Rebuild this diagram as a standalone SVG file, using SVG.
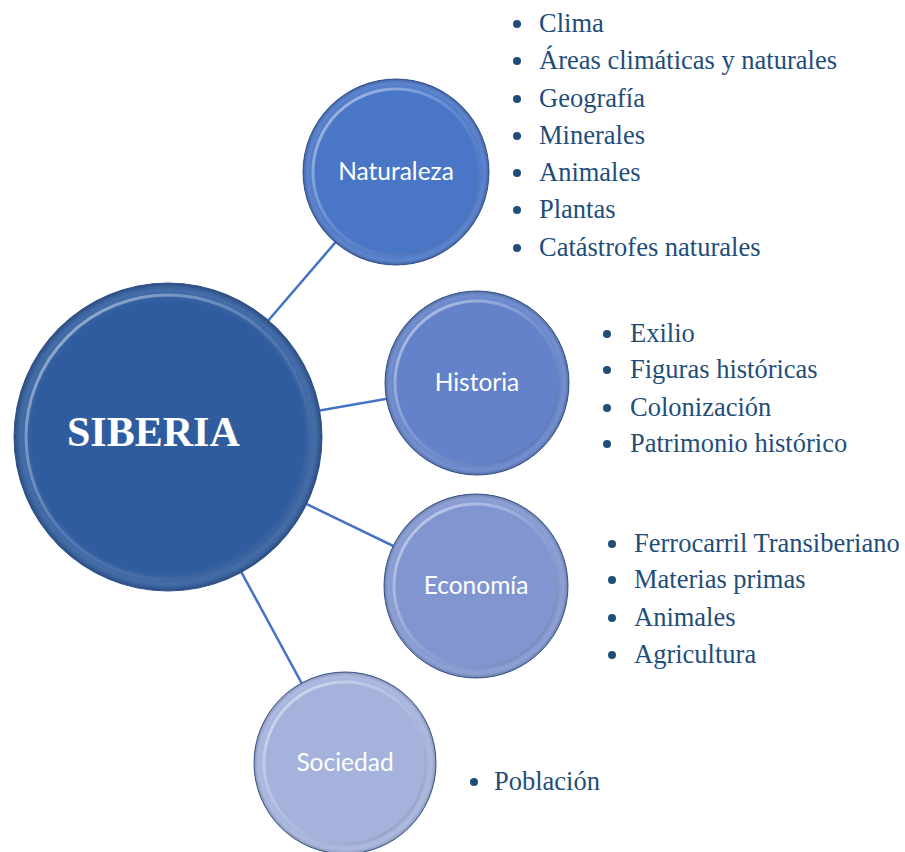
<svg xmlns="http://www.w3.org/2000/svg" width="905" height="852" viewBox="0 0 905 852">
<style>
.edge{stroke:#4472c4;stroke-width:2.5;fill:none}
.rim{fill:none;stroke:url(#rimg);stroke-width:3}
.outer{stroke:#3b5a92;stroke-width:1}
.dot{fill:#1f4e79}
</style>
<defs>
<linearGradient id="rimg" x1="0" y1="0" x2="1" y2="1">
<stop offset="0" stop-color="#ffffff" stop-opacity="0.55"/>
<stop offset="0.5" stop-color="#ffffff" stop-opacity="0.12"/>
<stop offset="1" stop-color="#000000" stop-opacity="0.12"/>
</linearGradient>
<radialGradient id="shade" cx="0.5" cy="0.5" r="0.5">
<stop offset="0.88" stop-color="#ffffff" stop-opacity="0"/>
<stop offset="0.95" stop-color="#ffffff" stop-opacity="0.1"/>
<stop offset="1" stop-color="#000000" stop-opacity="0.2"/>
</radialGradient>
</defs>
<g id="connectors">
<line class="edge" x1="168" y1="437" x2="396" y2="172"/>
<line class="edge" x1="168" y1="437" x2="477" y2="383"/>
<line class="edge" x1="168" y1="437" x2="476" y2="586"/>
<line class="edge" x1="168" y1="437" x2="345" y2="763"/>
</g>
<g id="siberia">
<circle class="outer" cx="168" cy="437" r="154" fill="#2f5c9f"/>
<circle cx="168" cy="437" r="154" fill="url(#shade)"/>
<circle class="rim" cx="168" cy="437" r="142"/>
<text x="67" y="446" font-family="Liberation Serif" font-size="42" font-weight="bold" fill="#ffffff">SIBERIA</text>
</g>
<g id="naturaleza">
<circle class="outer" cx="396" cy="172" r="93" fill="#4a76c7"/>
<circle cx="396" cy="172" r="93" fill="url(#shade)"/>
<circle class="rim" cx="396" cy="172" r="83"/>
<text x="396" y="180" font-family="Lato" font-size="24.5" fill="#ffffff" text-anchor="middle">Naturaleza</text>
</g>
<g id="historia">
<circle class="outer" cx="477" cy="383" r="92" fill="#6382c9"/>
<circle cx="477" cy="383" r="92" fill="url(#shade)"/>
<circle class="rim" cx="477" cy="383" r="82"/>
<text x="477" y="391" font-family="Lato" font-size="24.5" fill="#ffffff" text-anchor="middle">Historia</text>
</g>
<g id="economia">
<circle class="outer" cx="476" cy="586" r="92" fill="#8196d0"/>
<circle cx="476" cy="586" r="92" fill="url(#shade)"/>
<circle class="rim" cx="476" cy="586" r="82"/>
<text x="476" y="594" font-family="Lato" font-size="24.5" fill="#ffffff" text-anchor="middle">Economía</text>
</g>
<g id="sociedad">
<circle class="outer" cx="345" cy="763" r="91" fill="#a4b2dc"/>
<circle cx="345" cy="763" r="91" fill="url(#shade)"/>
<circle class="rim" cx="345" cy="763" r="81"/>
<text x="345" y="771" font-family="Lato" font-size="24.5" fill="#ffffff" text-anchor="middle">Sociedad</text>
</g>
<g id="list-naturaleza">
<circle class="dot" cx="517" cy="24" r="4"/><text x="539" y="32" font-family="Liberation Serif" font-size="26.5" fill="#1f4e79">Clima</text>
<circle class="dot" cx="517" cy="61" r="4"/><text x="539" y="69" font-family="Liberation Serif" font-size="26.5" fill="#1f4e79">Áreas climáticas y naturales</text>
<circle class="dot" cx="517" cy="99" r="4"/><text x="539" y="107" font-family="Liberation Serif" font-size="26.5" fill="#1f4e79">Geografía</text>
<circle class="dot" cx="517" cy="136" r="4"/><text x="539" y="144" font-family="Liberation Serif" font-size="26.5" fill="#1f4e79">Minerales</text>
<circle class="dot" cx="517" cy="173" r="4"/><text x="539" y="181" font-family="Liberation Serif" font-size="26.5" fill="#1f4e79">Animales</text>
<circle class="dot" cx="517" cy="210" r="4"/><text x="539" y="218" font-family="Liberation Serif" font-size="26.5" fill="#1f4e79">Plantas</text>
<circle class="dot" cx="517" cy="248" r="4"/><text x="539" y="256" font-family="Liberation Serif" font-size="26.5" fill="#1f4e79">Catástrofes naturales</text>
</g>
<g id="list-historia">
<circle class="dot" cx="607" cy="334" r="4"/><text x="630" y="342" font-family="Liberation Serif" font-size="26.5" fill="#1f4e79">Exilio</text>
<circle class="dot" cx="607" cy="370" r="4"/><text x="630" y="378" font-family="Liberation Serif" font-size="26.5" fill="#1f4e79">Figuras históricas</text>
<circle class="dot" cx="607" cy="408" r="4"/><text x="630" y="416" font-family="Liberation Serif" font-size="26.5" fill="#1f4e79">Colonización</text>
<circle class="dot" cx="607" cy="444" r="4"/><text x="630" y="452" font-family="Liberation Serif" font-size="26.5" fill="#1f4e79">Patrimonio histórico</text>
</g>
<g id="list-economia">
<circle class="dot" cx="612" cy="544" r="4"/><text x="634" y="552" font-family="Liberation Serif" font-size="26.5" fill="#1f4e79">Ferrocarril Transiberiano</text>
<circle class="dot" cx="612" cy="580" r="4"/><text x="634" y="588" font-family="Liberation Serif" font-size="26.5" fill="#1f4e79">Materias primas</text>
<circle class="dot" cx="612" cy="618" r="4"/><text x="634" y="626" font-family="Liberation Serif" font-size="26.5" fill="#1f4e79">Animales</text>
<circle class="dot" cx="612" cy="655" r="4"/><text x="634" y="663" font-family="Liberation Serif" font-size="26.5" fill="#1f4e79">Agricultura</text>
</g>
<g id="list-sociedad">
<circle class="dot" cx="474" cy="782" r="4"/><text x="494" y="790" font-family="Liberation Serif" font-size="26.5" fill="#1f4e79">Población</text>
</g>
</svg>
